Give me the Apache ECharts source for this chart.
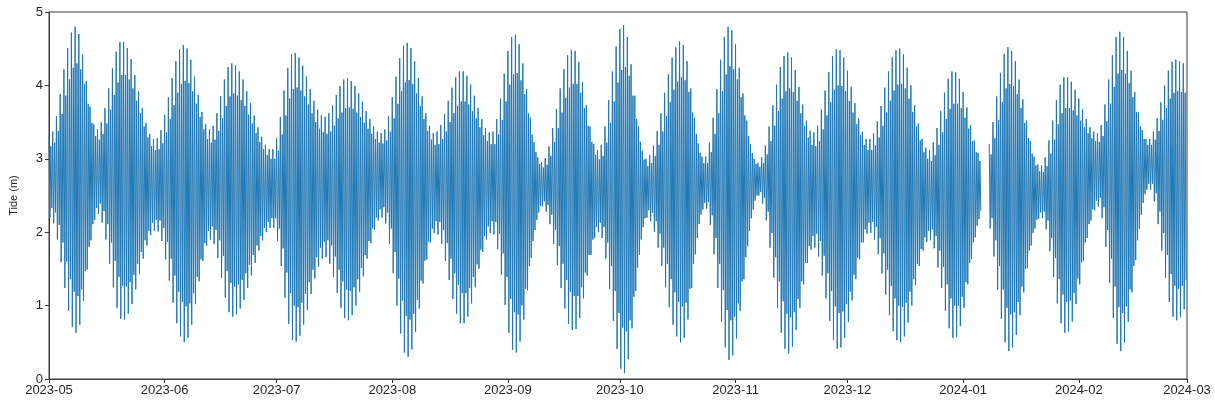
<!DOCTYPE html>
<html>
<head>
<meta charset="utf-8">
<script src="https://cdn.jsdelivr.net/npm/echarts@6/dist/echarts.min.js"></script>
<style>
html,body{margin:0;padding:0;background:#fff;}
#chart{width:1215px;height:406px;}
</style>
</head>
<body>
<div id="chart"></div>
<script>
// Series start date (day 0)
const startDate = '2023-05-01';

// Higher high water per day (m), from 2023-05-01
const dailyHigh = [
3.3,3.37,3.58,3.88,4.22,4.51,4.72,4.8,
4.7,4.42,4.06,3.71,3.47,
3.4,3.5,3.69,3.96,4.23,4.46,4.59,
4.59,4.51,4.36,4.14,3.92,3.69,3.49,3.34,3.27,
3.28,3.39,3.6,3.84,4.1,4.33,4.49,4.55,
4.5,4.35,4.12,3.87,3.64,3.47,3.4,
3.45,3.62,3.85,4.08,4.25,
4.3,4.27,4.19,4.08,3.92,3.76,3.59,3.43,3.3,3.19,3.13,
3.13,3.28,3.57,3.93,4.24,4.42,
4.44,4.38,4.27,4.12,3.95,3.79,3.67,3.59,
3.57,3.62,3.73,3.87,3.99,4.08,
4.1,4.06,3.99,3.89,3.78,3.65,3.54,3.44,3.37,3.35,
3.4,3.58,3.84,4.12,4.37,4.54,
4.58,4.51,4.33,4.1,3.85,3.62,3.45,3.35,
3.37,3.46,3.61,3.79,3.97,4.11,4.19,
4.19,4.13,4.01,3.86,3.69,3.54,3.42,3.36,
3.37,3.54,3.82,4.16,4.47,4.66,
4.69,4.56,4.3,3.95,3.56,3.23,3.02,
2.95,3.01,3.17,3.42,3.68,3.96,4.22,4.41,4.48,
4.47,4.32,4.04,3.73,3.44,3.2,3.12,
3.19,3.44,3.8,4.19,4.53,4.77,
4.82,4.66,4.29,3.86,3.44,3.11,3.0,
3.05,3.18,3.38,3.62,3.9,4.15,4.38,4.52,4.6,
4.55,4.33,3.96,3.56,3.21,3.03,
3.03,3.22,3.56,3.95,4.35,4.66,4.8,
4.75,4.56,4.24,3.89,3.52,3.2,3.0,
2.94,3.02,3.18,3.44,3.73,4.01,4.25,4.4,
4.45,4.38,4.21,3.98,3.74,3.52,3.38,
3.36,3.45,3.67,3.93,4.18,4.4,4.49,
4.48,4.38,4.2,3.98,3.76,3.55,3.37,3.27,
3.27,3.35,3.51,3.72,3.97,4.19,4.38,4.48,
4.5,4.42,4.24,4.0,3.73,3.48,3.27,3.15,
3.12,3.22,3.42,3.65,3.9,4.09,4.19,
4.18,4.09,3.91,3.7,3.46,3.25,3.08,
null,null,
3.2,3.5,3.85,4.17,4.43,4.52,
4.47,4.33,4.08,3.81,3.52,3.24,3.03,2.92,
2.91,3.02,3.25,3.52,3.8,4.01,4.11,
4.11,4.05,3.94,3.82,3.68,3.54,3.43,3.37,
3.35,3.46,3.74,4.08,4.41,4.66,
4.73,4.66,4.47,4.2,3.91,3.63,3.39,3.27,
3.27,3.37,3.55,3.77,4.0,4.2,4.32,4.35,4.33,4.3
];

// Lower low water per day (m)
const dailyLow = [
2.2,2.12,1.9,1.59,1.24,0.93,0.71,0.63,
0.74,1.07,1.49,1.89,2.17,
2.25,2.13,1.9,1.57,1.25,0.97,0.82,
0.81,0.89,1.02,1.22,1.43,1.64,1.82,1.96,2.02,
2.01,1.88,1.63,1.34,1.04,0.76,0.58,0.5,
0.56,0.74,1.02,1.33,1.61,1.82,1.9,
1.84,1.65,1.38,1.11,0.91,
0.85,0.88,0.96,1.08,1.24,1.41,1.58,1.75,1.89,2.0,2.06,
2.06,1.88,1.54,1.11,0.75,0.53,
0.51,0.59,0.74,0.94,1.16,1.37,1.53,1.64,
1.66,1.57,1.39,1.17,0.97,0.83,
0.8,0.87,1.0,1.19,1.4,1.64,1.85,2.03,2.16,2.2,
2.12,1.84,1.44,1.0,0.62,0.36,
0.3,0.4,0.64,0.96,1.3,1.63,1.86,1.99,
1.97,1.84,1.61,1.35,1.09,0.89,0.76,
0.76,0.85,1.03,1.25,1.5,1.73,1.9,1.99,
1.97,1.77,1.42,1.01,0.63,0.4,
0.36,0.51,0.81,1.21,1.65,2.03,2.27,
2.35,2.28,2.11,1.84,1.55,1.24,0.96,0.75,0.67,
0.68,0.83,1.1,1.41,1.69,1.92,2.0,
1.92,1.64,1.23,0.79,0.41,0.14,
0.08,0.27,0.69,1.2,1.69,2.07,2.2,
2.15,2.01,1.79,1.54,1.25,0.98,0.74,0.58,0.5,
0.56,0.81,1.24,1.7,2.11,2.31,
2.32,2.1,1.7,1.24,0.78,0.43,0.26,
0.32,0.55,0.93,1.36,1.81,2.19,2.43,
2.5,2.39,2.16,1.79,1.38,0.97,0.63,0.41,
0.35,0.44,0.67,0.97,1.29,1.58,1.76,
1.79,1.67,1.41,1.1,0.79,0.53,0.41,
0.43,0.56,0.78,1.07,1.36,1.63,1.86,1.98,
1.99,1.9,1.7,1.44,1.15,0.87,0.65,0.53,
0.5,0.58,0.77,1.0,1.28,1.54,1.75,1.87,
1.89,1.78,1.52,1.24,0.93,0.69,0.56,
0.57,0.72,0.97,1.29,1.64,1.93,2.18,
null,null,
2.05,1.67,1.22,0.82,0.5,0.38,
0.43,0.6,0.87,1.18,1.51,1.82,2.05,2.18,
2.19,2.04,1.74,1.39,1.03,0.76,0.63,
0.65,0.78,1.02,1.29,1.61,1.92,2.16,2.3,
2.35,2.19,1.8,1.31,0.83,0.48,
0.38,0.49,0.78,1.18,1.62,2.05,2.4,2.58,
2.58,2.42,2.11,1.75,1.38,1.05,0.85,0.8,0.85,0.95
];

// Lower high water per day (m) - the second, smaller tide of each day
const dailyHigh2 = [
3.17,3.22,3.38,3.61,3.86,4.08,4.24,4.30,
4.22,4.02,3.75,3.49,3.31,
3.26,3.34,3.48,3.67,3.87,4.04,4.14,
4.14,4.08,3.96,3.79,3.62,3.44,3.29,3.17,3.12,
3.13,3.21,3.36,3.54,3.73,3.90,4.02,4.06,
4.03,3.92,3.75,3.57,3.40,3.27,3.22,
3.26,3.38,3.55,3.72,3.85,
3.89,3.86,3.80,3.72,3.60,3.48,3.35,3.23,3.13,3.05,3.00,
3.00,3.11,3.33,3.59,3.82,3.95,
3.97,3.93,3.85,3.74,3.62,3.50,3.41,3.36,
3.34,3.37,3.45,3.55,3.63,3.69,
3.70,3.68,3.63,3.57,3.49,3.41,3.34,3.27,3.22,3.21,
3.25,3.37,3.55,3.75,3.92,4.04,
4.07,4.02,3.89,3.72,3.54,3.38,3.26,3.19,
3.20,3.27,3.37,3.50,3.62,3.72,3.78,
3.78,3.74,3.65,3.55,3.43,3.32,3.24,3.20,
3.20,3.33,3.53,3.78,4.01,4.15,
4.17,4.07,3.88,3.62,3.33,3.09,2.93,
2.88,2.92,3.04,3.23,3.42,3.63,3.83,3.97,4.02,
4.02,3.90,3.69,3.45,3.23,3.05,2.99,
3.04,3.22,3.49,3.78,4.04,4.21,
4.25,4.13,3.86,3.54,3.23,2.99,2.90,
2.94,3.04,3.19,3.37,3.58,3.77,3.94,4.05,4.11,
4.07,3.91,3.63,3.34,3.08,2.94,
2.94,3.09,3.34,3.62,3.92,4.15,4.26,
4.22,4.08,3.84,3.59,3.31,3.08,2.93,
2.89,2.94,3.06,3.24,3.45,3.65,3.82,3.92,
3.96,3.91,3.79,3.62,3.45,3.29,3.19,
3.17,3.24,3.40,3.59,3.77,3.94,4.00,
3.99,3.92,3.79,3.63,3.47,3.32,3.19,3.12,
3.12,3.18,3.29,3.45,3.63,3.79,3.93,4.01,
4.02,3.96,3.82,3.64,3.44,3.25,3.09,3.00,
2.97,3.05,3.19,3.36,3.54,3.68,3.75,
3.75,3.69,3.56,3.41,3.24,3.09,2.97,
null,null,
3.06,3.28,3.53,3.77,3.96,4.02,
3.99,3.88,3.69,3.49,3.28,3.07,2.91,2.83,
2.82,2.90,3.07,3.26,3.47,3.62,3.69,
3.69,3.66,3.59,3.52,3.43,3.35,3.28,3.24,
3.23,3.31,3.51,3.75,3.98,4.16,
4.21,4.16,4.03,3.84,3.64,3.44,3.27,3.19,
3.19,3.26,3.38,3.53,3.69,3.82,3.90,3.92,3.91,3.90
];

// Higher low water per day (m) - the second, smaller tide of each day
const dailyLow2 = [
2.33,2.27,2.10,1.86,1.60,1.36,1.19,1.13,
1.22,1.47,1.80,2.11,2.33,
2.39,2.29,2.11,1.86,1.61,1.39,1.27,
1.26,1.32,1.42,1.57,1.73,1.89,2.02,2.13,2.17,
2.16,2.06,1.87,1.64,1.41,1.19,1.05,0.99,
1.03,1.17,1.39,1.63,1.85,2.02,2.08,
2.03,1.89,1.68,1.47,1.31,
1.26,1.29,1.35,1.44,1.56,1.69,1.82,1.95,2.06,2.14,2.19,
2.19,2.05,1.78,1.45,1.17,1.00,
0.98,1.04,1.16,1.32,1.49,1.66,1.79,1.87,
1.89,1.82,1.67,1.49,1.33,1.22,
1.20,1.25,1.36,1.51,1.69,1.88,2.05,2.20,2.31,2.34,
2.27,2.05,1.73,1.37,1.07,0.86,
0.81,0.89,1.08,1.34,1.61,1.87,2.05,2.15,
2.14,2.03,1.85,1.64,1.44,1.28,1.17,
1.17,1.24,1.39,1.56,1.76,1.95,2.08,2.15,
2.14,1.98,1.71,1.39,1.09,0.91,
0.88,1.00,1.23,1.54,1.88,2.17,2.36,
2.42,2.37,2.24,2.03,1.81,1.57,1.35,1.19,1.13,
1.13,1.25,1.45,1.69,1.90,2.07,2.13,
2.07,1.86,1.54,1.20,0.90,0.70,
0.65,0.80,1.12,1.52,1.90,2.19,2.30,
2.26,2.15,1.98,1.79,1.57,1.36,1.18,1.05,0.99,
1.04,1.23,1.57,1.92,2.24,2.40,
2.41,2.23,1.92,1.57,1.21,0.94,0.80,
0.85,1.03,1.33,1.66,2.02,2.31,2.50,
2.55,2.47,2.28,1.99,1.66,1.33,1.06,0.89,
0.84,0.91,1.09,1.33,1.58,1.81,1.95,
1.98,1.88,1.68,1.44,1.20,0.99,0.90,
0.92,1.02,1.19,1.42,1.65,1.86,2.04,2.13,
2.14,2.07,1.92,1.71,1.49,1.27,1.10,1.00,
0.98,1.04,1.19,1.36,1.57,1.77,1.93,2.02,
2.04,1.95,1.75,1.53,1.29,1.10,1.00,
1.00,1.12,1.32,1.58,1.86,2.09,2.29,
null,null,
2.19,1.89,1.54,1.22,0.97,0.88,
0.91,1.05,1.26,1.50,1.75,1.99,2.17,2.27,
2.28,2.16,1.92,1.65,1.36,1.15,1.05,
1.07,1.17,1.37,1.59,1.86,2.11,2.31,2.43,
2.47,2.34,2.03,1.64,1.26,0.98,
0.90,0.99,1.22,1.54,1.89,2.24,2.52,2.66,
2.66,2.53,2.28,1.99,1.69,1.43,1.27,1.23,1.27,1.35
];

// X tick labels (month starts)
const monthLabels = ['2023-05','2023-06','2023-07','2023-08','2023-09','2023-10','2023-11','2023-12','2024-01','2024-02','2024-03'];
// Y tick labels
const yTicks = [0,1,2,3,4,5];
const yName = 'Tide (m)';

const DAY = 86400000;
const t0 = Date.parse(startDate + 'T00:00:00Z');
const monthDays = monthLabels.map(s => Math.round((Date.parse(s + '-01T00:00:00Z') - t0) / DAY));
const dayToLabel = {};
monthDays.forEach((d, i) => { dayToLabel[d] = monthLabels[i]; });

// Two tides per day: high, low, high, low at quarter-day steps
const seriesData = [];
const v = x => (x == null ? '-' : x);
for (let i = 0; i < dailyHigh.length; i++) {
  seriesData.push([i, v(dailyHigh[i])]);
  seriesData.push([i + 0.25, v(dailyLow[i])]);
  seriesData.push([i + 0.5, v(dailyHigh2[i])]);
  seriesData.push([i + 0.75, v(dailyLow2[i])]);
}

const txt = '#262626';
const font = "'Liberation Sans', Arial, sans-serif";

const chart = echarts.init(document.getElementById('chart'), null, {renderer: 'canvas'});
chart.setOption({
  animation: false,
  backgroundColor: '#ffffff',
  grid: {left: 47, right: 28, top: 12, bottom: 27, show: true, borderColor: '#3a3a3a', borderWidth: 1, backgroundColor: 'transparent'},
  xAxis: {
    type: 'value',
    min: monthDays[0],
    max: monthDays[monthDays.length - 1],
    splitLine: {show: false},
    axisLine: {show: true, onZero: false, lineStyle: {color: '#3a3a3a', width: 1}},
    axisTick: {show: true, length: 4, inside: false, lineStyle: {color: '#3a3a3a'}, customValues: monthDays},
    axisLabel: {
      color: txt, fontSize: 13, fontFamily: font, margin: 5,
      customValues: monthDays,
      formatter: val => dayToLabel[Math.round(val)] || ''
    }
  },
  yAxis: {
    type: 'value',
    min: yTicks[0],
    max: yTicks[yTicks.length - 1],
    interval: 1,
    name: yName,
    nameLocation: 'middle',
    nameGap: 30,
    nameTextStyle: {color: txt, fontSize: 11, fontFamily: font},
    splitLine: {show: false},
    axisLine: {show: true, lineStyle: {color: '#3a3a3a', width: 1}},
    axisTick: {show: true, length: 4, lineStyle: {color: '#3a3a3a'}},
    axisLabel: {color: txt, fontSize: 13, fontFamily: font, margin: 6}
  },
  series: [{
    type: 'line',
    data: seriesData,
    showSymbol: false,
    symbol: 'none',
    connectNulls: false,
    sampling: null,
    lineStyle: {color: '#1f77b4', width: 1},
    silent: true
  }]
});
</script>
</body>
</html>
